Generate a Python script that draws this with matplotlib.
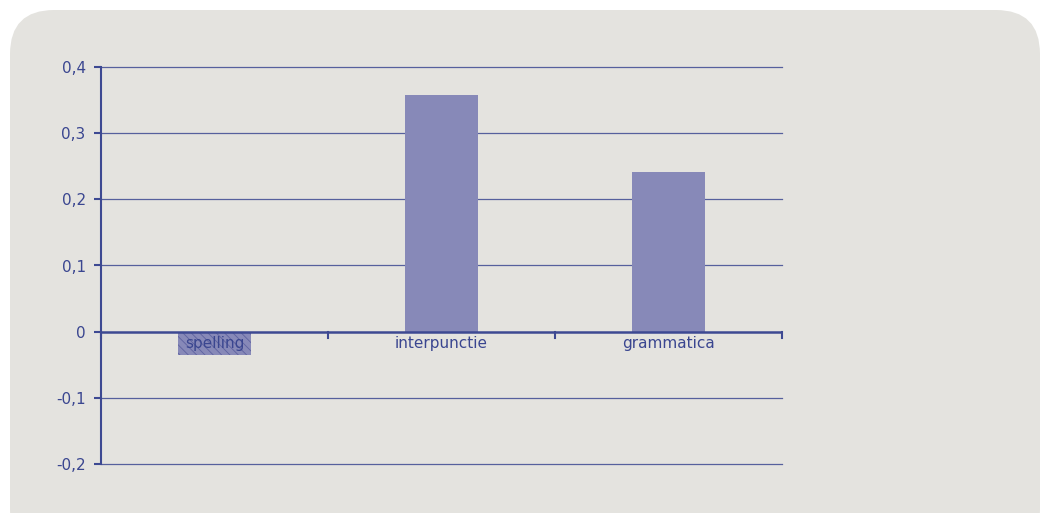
import matplotlib.pyplot as plt
from matplotlib.patches import FancyBboxPatch
from matplotlib.ticker import FuncFormatter
import numpy as np

categories = ['spelling', 'interpunctie', 'grammatica']
values = [-0.035, 0.357, 0.242]
yticks = [-0.2, -0.1, 0, 0.1, 0.2, 0.3, 0.4]

bar_col = '#8789b8'
line_col = '#3d4992'
text_col = '#3a4690'
bg_col = '#e4e3df'

plt.rcParams['hatch.color'] = '#5e62a0'
plt.rcParams['hatch.linewidth'] = 0.6

W, H = 1051, 513
fig = plt.figure(figsize=(W / 100, H / 100), dpi=100)
fig.patch.set_facecolor('white')

# rounded grey panel behind the chart
panel = FancyBboxPatch((10 / W, -40 / H), 1030 / W, (H - 10 + 40) / H,
                       boxstyle='round,pad=0,rounding_size=0.042',
                       transform=fig.transFigure, facecolor=bg_col,
                       edgecolor='none', zorder=-10, mutation_aspect=W / H)
fig.patches.append(panel)

ax = fig.add_axes([101 / W, (H - 464) / H, 681 / W, 397 / H])
ax.set_facecolor('none')
ax.set_zorder(1)

x = np.arange(len(categories))
bars = ax.bar(x, values, width=0.32, color=bar_col, zorder=3)
# negative bar is drawn hatched
bars[0].set_hatch('\\' * 4)
bars[0].set_edgecolor('#5e62a0')
bars[0].set_linewidth(0)

ax.set_xlim(-0.5, len(categories) - 0.5)
ax.set_ylim(-0.2, 0.4)
ax.set_yticks(yticks)
ax.yaxis.set_major_formatter(FuncFormatter(
    lambda v, p: '0' if abs(v) < 1e-9 else ('%.1f' % v).replace('.', ',')))
ax.tick_params(axis='y', colors=line_col, labelcolor=text_col, labelsize=11,
               length=5, width=1.5, pad=6)

# horizontal gridlines
for t in yticks:
    if t != 0:
        ax.plot([-0.5, len(categories) - 0.5], [t, t], color=line_col,
                linewidth=0.9, alpha=0.85, zorder=1, clip_on=False)

for s in ['top', 'right', 'bottom']:
    ax.spines[s].set_visible(False)
ax.spines['left'].set_color(line_col)
ax.spines['left'].set_linewidth(1.5)

# category axis sits on the zero line
ax.axhline(0, color=line_col, linewidth=1.8, zorder=4)
ax.set_xticks([])
for b in np.arange(-0.5, len(categories), 1.0):
    ax.plot([b, b], [0, -0.009], color=line_col, linewidth=1.5, zorder=4,
            clip_on=False)
for xi, lab in zip(x, categories):
    ax.text(xi, -0.007, lab, ha='center', va='top', color=text_col,
            fontsize=11, zorder=5)

fig.savefig('out.png', dpi=100, facecolor=fig.get_facecolor())
